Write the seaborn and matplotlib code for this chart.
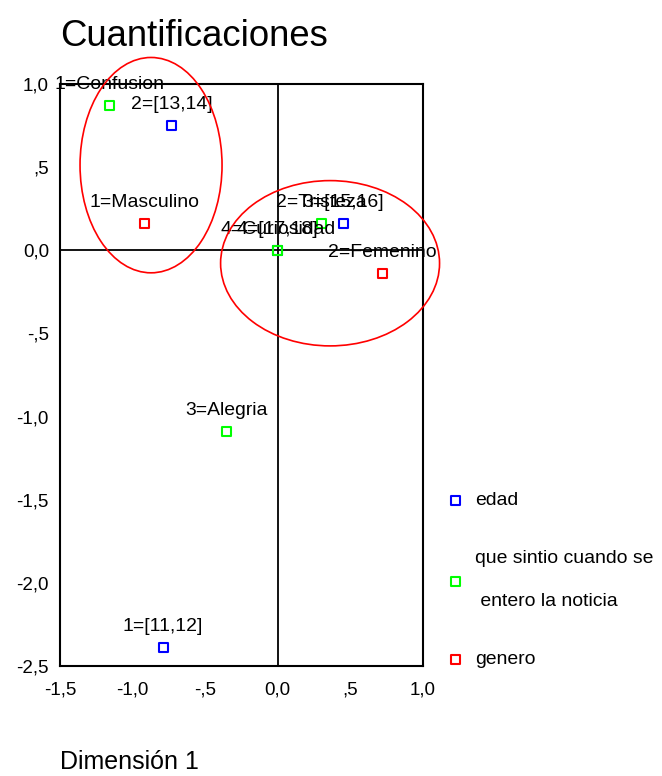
import matplotlib
matplotlib.use("Agg")
import matplotlib.pyplot as plt
from matplotlib import font_manager
from matplotlib.patches import Ellipse
import seaborn as sns
import pandas as pd

# ---- data ----
edad_labels = ["1=[11,12]", "2=[13,14]", "3=[15,16]", "4=[17,18]"]
edad_x = [-0.79, -0.73, 0.45, 0.0]
edad_y = [-2.39, 0.75, 0.16, 0.0]

sentir_labels = ["1=Confusion", "2=Tristeza", "3=Alegria", "4=Curiosidad"]
sentir_x = [-1.16, 0.30, -0.35, 0.0]
sentir_y = [0.87, 0.16, -1.09, 0.0]

genero_labels = ["1=Masculino", "2=Femenino"]
genero_x = [-0.92, 0.72]
genero_y = [0.16, -0.14]

series_names = ["edad", "que sintio cuando se\n entero la noticia", "genero"]
series_colors = ["#0000ff", "#00ff00", "#ff0000"]

x_ticks = [-1.5, -1.0, -0.5, 0.0, 0.5, 1.0]
x_ticklabels = ["-1,5", "-1,0", "-,5", "0,0", ",5", "1,0"]
y_ticks = [1.0, 0.5, 0.0, -0.5, -1.0, -1.5, -2.0, -2.5]
y_ticklabels = ["1,0", ",5", "0,0", "-,5", "-1,0", "-1,5", "-2,0", "-2,5"]

title = "Cuantificaciones"
xlabel = "Dimensión 1"

# ---- figure ----
sns.set_theme(style="white")
names = {f.name for f in font_manager.fontManager.ttflist}
narrow = "Liberation Sans Narrow" in names
fam = "Liberation Sans Narrow" if narrow else "Liberation Sans"
k = 1.0 if narrow else 0.82
plt.rcParams["font.family"] = [fam, "DejaVu Sans"]
plt.rcParams["text.color"] = "black"

fs_tick = 16.5 * k
fs_lab = 17 * k
fs_title = 32 * k
fs_xlab = 22 * k

fig = plt.figure(figsize=(6.62, 7.76), dpi=100)
ax = fig.add_axes([60 / 662, 1 - 666 / 776, (423 - 60) / 662, (666 - 84) / 776])

frames = []
for name, lx, ly, lab in [
    (series_names[0], edad_x, edad_y, edad_labels),
    (series_names[1], sentir_x, sentir_y, sentir_labels),
    (series_names[2], genero_x, genero_y, genero_labels),
]:
    frames.append(pd.DataFrame({"x": lx, "y": ly, "label": lab, "serie": name}))
df = pd.concat(frames, ignore_index=True)

for name, col in zip(series_names, series_colors):
    sub = df[df["serie"] == name]
    sns.scatterplot(data=sub, x="x", y="y", marker="s", s=42,
                    facecolor="none", edgecolor=col, linewidth=1.5,
                    ax=ax, label=name, zorder=5)

for _, r in df.iterrows():
    ax.annotate(r["label"], (r["x"], r["y"]), xytext=(0, 15),
                textcoords="offset points", ha="center", va="center",
                fontsize=fs_lab, color="black", zorder=6)

ax.axhline(0, color="black", lw=1.3, zorder=1)
ax.axvline(0, color="black", lw=1.3, zorder=1)

ax.add_patch(Ellipse((-0.873, 0.512), 0.978, 1.295, fill=False,
                     edgecolor="#ff0000", lw=1.2, clip_on=False, zorder=7))
ax.add_patch(Ellipse((0.36, -0.078), 1.508, 0.994, fill=False,
                     edgecolor="#ff0000", lw=1.2, clip_on=False, zorder=7))

ax.set_xlim(-1.5, 1.0)
ax.set_ylim(-2.5, 1.0)
ax.set_xticks(x_ticks)
ax.set_xticklabels(x_ticklabels)
ax.set_yticks(y_ticks)
ax.set_yticklabels(y_ticklabels)
ax.tick_params(axis="both", direction="out", length=5, width=1.3,
               labelsize=fs_tick, colors="black", pad=3)
ax.tick_params(axis="x", pad=6)
ax.set_xlabel("")
ax.set_ylabel("")
for sp in ax.spines.values():
    sp.set_visible(True)
    sp.set_color("black")
    sp.set_linewidth(1.5)

leg = ax.legend(loc="upper left", bbox_to_anchor=(440 / 662, 1 - 484 / 776),
                bbox_transform=fig.transFigure, frameon=False, fontsize=fs_lab,
                labelspacing=2.1, handlelength=0.8, handletextpad=0.6,
                borderaxespad=0)
for t in leg.get_texts():
    t.set_linespacing(3.0)

fig.text(60 / 662, 1 - 46 / 776, title, fontsize=fs_title, ha="left", va="baseline")
fig.text(60 / 662, 7 / 776, xlabel, fontsize=fs_xlab, ha="left", va="baseline")

fig.savefig("out.png", dpi=100)
